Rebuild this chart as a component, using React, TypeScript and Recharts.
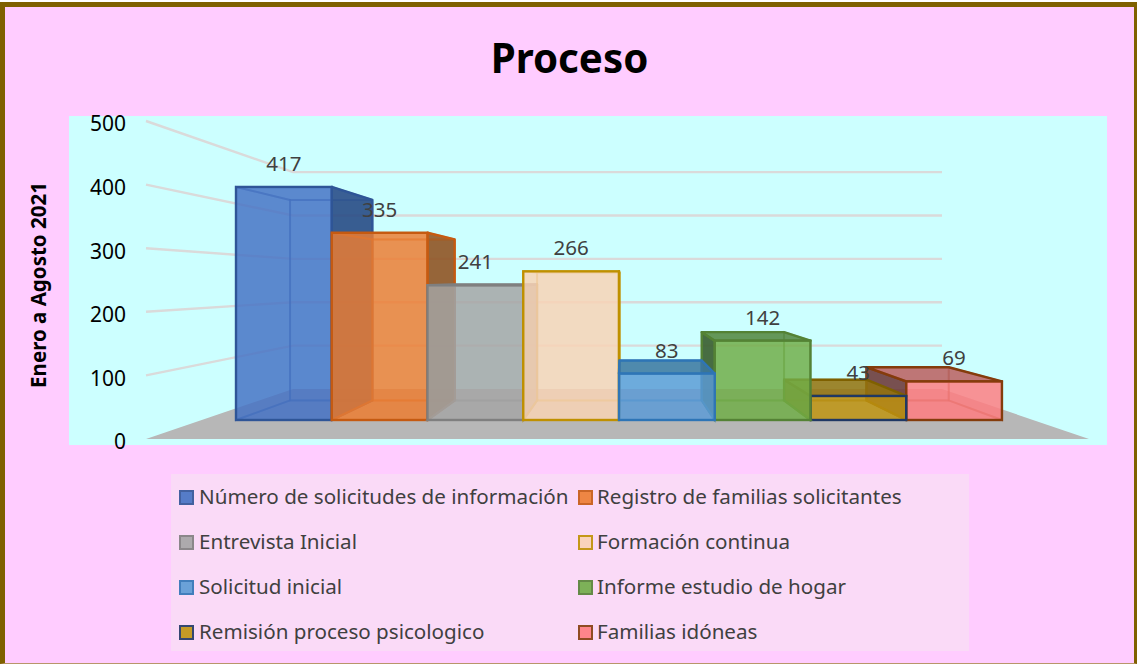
import React from "react";
import { ComposedChart, Bar, Line, XAxis, YAxis, CartesianGrid, Legend, LabelList } from "recharts";

const seriesNames = [
  "Número de solicitudes de información",
  "Registro de familias solicitantes",
  "Entrevista Inicial",
  "Formación continua",
  "Solicitud inicial",
  "Informe estudio de hogar",
  "Remisión proceso psicologico",
  "Familias idóneas",
];
const seriesValues = [417, 335, 241, 266, 83, 142, 43, 69];
const paintOrder = [0, 1, 2, 3, 7, 6, 5, 4];
const slots = [1, 2, 3, 4, 5, 6, 7, 8];
const fills = ["#4472C4", "#ED7D31", "#A5A5A5", "#F9D3B4", "#5B9BD5", "#70AD47", "#C09510", "#FF7C80"];
const strokes = ["#2F5597", "#C55A11", "#7F7F7F", "#BF9000", "#2E75B6", "#548235", "#1F3864", "#843C0C"];
const edgeStrokes = ["#2F5597", "#C55A11", "#7F7F7F", "#BF9000", "#2E75B6", "#548235", "#7F6000", "#843C0C"];
const sideFills = ["#2A4D85", "#8F5526", "#8A8A8A", "#E8C8A8", "#3B78AC", "#3A5E30", "#8A6A10", "#6E3E3E"];
const topFills = ["#2F5597", "#B5652A", "#8F8F8F", "#E8C8A8", "#3C779F", "#54863F", "#94730F", "#BB6060"];
const yTicks = [0, 100, 200, 300, 400, 500];
const axisTitle = "Enero a Agosto 2021";

const data = paintOrder.map((i) => ({
  name: seriesNames[i],
  slot: slots[i],
  idx: i,
  value: seriesValues[i],
}));

// perspective of the box's back face
const VX = 622;
const VY = 280;
const S = 0.86;
const px = (x: number) => VX + (x - VX) * S;
const py = (y: number) => VY + (y - VY) * S;

const poly = (pts: number[][]) => pts.map((p) => p.join(",")).join(" ");

const boxShape = (props: any) => {
  const { x, y, width, height, payload } = props;
  const i = payload.idx;
  const l = x;
  const r = x + width;
  const t = y;
  const b = y + height;
  const bl = px(l);
  const br = px(r);
  const bt = py(t);
  const bb = py(b);
  const fill = fills[i];
  const stroke = strokes[i];
  const edge = edgeStrokes[i];
  const faceStroke = { stroke: edge, strokeWidth: 2.4, strokeLinejoin: "round" as const };
  const inner = { stroke: edge, strokeWidth: 2, strokeOpacity: 0.4 };
  const rightOuter = br > r;
  const leftOuter = bl < l;
  const topOuter = bt < t;
  return (
    <g>
      <rect x={bl} y={bt} width={br - bl} height={bb - bt} fill={fill} fillOpacity={0.12} {...inner} />
      <polygon points={poly([[l, b], [r, b], [br, bb], [bl, bb]])} fill={fill} fillOpacity={0.12} {...inner} />
      {leftOuter ? (
        <polygon points={poly([[l, t], [l, b], [bl, bb], [bl, bt]])} fill={sideFills[i]} fillOpacity={0.9} {...faceStroke} />
      ) : (
        <polygon points={poly([[l, t], [l, b], [bl, bb], [bl, bt]])} fill={fill} fillOpacity={0.08} {...inner} />
      )}
      {rightOuter ? (
        <polygon points={poly([[r, t], [r, b], [br, bb], [br, bt]])} fill={sideFills[i]} fillOpacity={0.9} {...faceStroke} />
      ) : (
        <polygon points={poly([[r, t], [r, b], [br, bb], [br, bt]])} fill={fill} fillOpacity={0.08} {...inner} />
      )}
      {topOuter ? (
        <polygon points={poly([[l, t], [r, t], [br, bt], [bl, bt]])} fill={topFills[i]} fillOpacity={0.85} {...faceStroke} />
      ) : (
        <polygon points={poly([[l, t], [r, t], [br, bt], [bl, bt]])} fill={fill} fillOpacity={0.08} {...inner} />
      )}
      <rect x={l} y={t} width={width} height={height} fill={fill} fillOpacity={0.82} stroke={stroke} strokeWidth={2.4} />
    </g>
  );
};

// walls: each value line runs along the side wall, then across the back wall
const WALL_FRONT_BOTTOM = 439;
const WALL_BACK_BOTTOM = 389;
const WALL_S = 0.682;
const WALL_L = 146;
const WALL_BL = 293;
const WALL_BR = 942;
const WALL_FR = 1089;

const wallLine = (p: any) => {
  const y = p.y1;
  if (Math.abs(y - WALL_FRONT_BOTTOM) < 1.5) {
    return (
      <polygon
        key={p.key}
        points={poly([
          [WALL_L, WALL_FRONT_BOTTOM],
          [WALL_FR, WALL_FRONT_BOTTOM],
          [WALL_BR, WALL_BACK_BOTTOM],
          [WALL_BL, WALL_BACK_BOTTOM],
        ])}
        fill="#B7B7B7"
      />
    );
  }
  const yb = WALL_BACK_BOTTOM - (WALL_FRONT_BOTTOM - y) * WALL_S;
  return (
    <polyline
      key={p.key}
      points={poly([
        [WALL_L, y],
        [WALL_BL, yb],
        [WALL_BR, yb],
      ])}
      fill="none"
      stroke="#DADADA"
      strokeWidth={2.4}
    />
  );
};

const FONT = "'Noto Sans', 'Open Sans', sans-serif";

const legendContent = () => (
  <div style={{ position: "relative", width: 798, height: 177, background: "#FADAF7", fontFamily: FONT }}>
    {seriesNames.map((name, k) => {
      const col = k % 2;
      const rowIdx = Math.floor(k / 2);
      const cy = 23 + rowIdx * 45;
      return (
        <div key={name}>
          <div
            style={{
              position: "absolute",
              boxSizing: "border-box",
              left: col === 0 ? 8 : 407,
              top: cy - 7,
              width: 15,
              height: 15,
              background: fills[k],
              opacity: 0.9,
              border: `2px solid ${strokes[k]}`,
            }}
          />
          <div
            style={{
              position: "absolute",
              left: col === 0 ? 28 : 426,
              top: cy - 16,
              height: 30,
              lineHeight: "30px",
              fontSize: 20.6,
              color: "#404040",
              whiteSpace: "nowrap",
            }}
          >
            {name}
          </div>
        </div>
      );
    })}
  </div>
);

export default function App() {
  return (
    <div style={{ position: "absolute", left: 0, top: 0, width: 1137, height: 664, overflow: "hidden", background: "#fff" }}>
      <div
        style={{
          position: "absolute",
          left: 0,
          top: 2,
          width: 1137,
          height: 662,
          boxSizing: "border-box",
          background: "#FFCCFF",
          borderTop: "5px solid #7F6000",
          borderLeft: "5px solid #7F6000",
          borderRight: "3px solid #7F6000",
          borderBottom: "1px solid #B8956A",
        }}
      />
      <div style={{ position: "absolute", left: 69, top: 116, width: 1038, height: 329, background: "#CCFFFF" }} />
      <div
        style={{
          position: "absolute",
          left: 0,
          width: 1139,
          top: 28,
          height: 60,
          lineHeight: "60px",
          textAlign: "center",
          fontFamily: FONT,
          fontWeight: 700,
          fontSize: 40.3,
          color: "#000",
        }}
      >
        Proceso
      </div>
      <div style={{ position: "absolute", left: 0, top: 0 }}>
        <ComposedChart
          width={1137}
          height={664}
          data={data}
          margin={{ top: 121, right: 45, bottom: 225, left: 0 }}
          barCategoryGap={0}
          barGap={0}
        >
          <CartesianGrid vertical={false} horizontal={wallLine} />
          <XAxis dataKey="slot" type="number" domain={[-0.44, 9.44]} ticks={slots} hide allowDataOverflow />
          <YAxis
            width={146}
            domain={[0, 500]}
            ticks={yTicks}
            tickSize={0}
            tickMargin={20}
            axisLine={false}
            tickLine={false}
            interval={0}
            tick={{ fontSize: 21, fill: "#000", fontFamily: FONT, dy: 3 }}
            label={{
              value: axisTitle,
              angle: -90,
              position: "insideLeft",
              offset: 39,
              dy: 5,
              style: { textAnchor: "middle", fontSize: 20.5, fontWeight: 700, fill: "#000", fontFamily: FONT },
            }}
          />
          <YAxis yAxisId="front" hide domain={[-34, 535]} allowDataOverflow />
          <Legend
            layout="horizontal"
            verticalAlign="middle"
            align="center"
            content={legendContent}
            wrapperStyle={{ left: 171, top: 474, width: 798, height: 177, bottom: "auto", right: "auto" }}
          />
          <Line dataKey="value" stroke="none" dot={false} activeDot={false} legendType="none" isAnimationActive={false} />
          <Bar dataKey="value" yAxisId="front" fill={fills[0]} barSize={95.7} isAnimationActive={false} shape={boxShape}>
            <LabelList dataKey="value" position="top" offset={16} fill="#404040" fontSize={20.5} fontFamily={FONT} />
          </Bar>
        </ComposedChart>
      </div>
    </div>
  );
}
